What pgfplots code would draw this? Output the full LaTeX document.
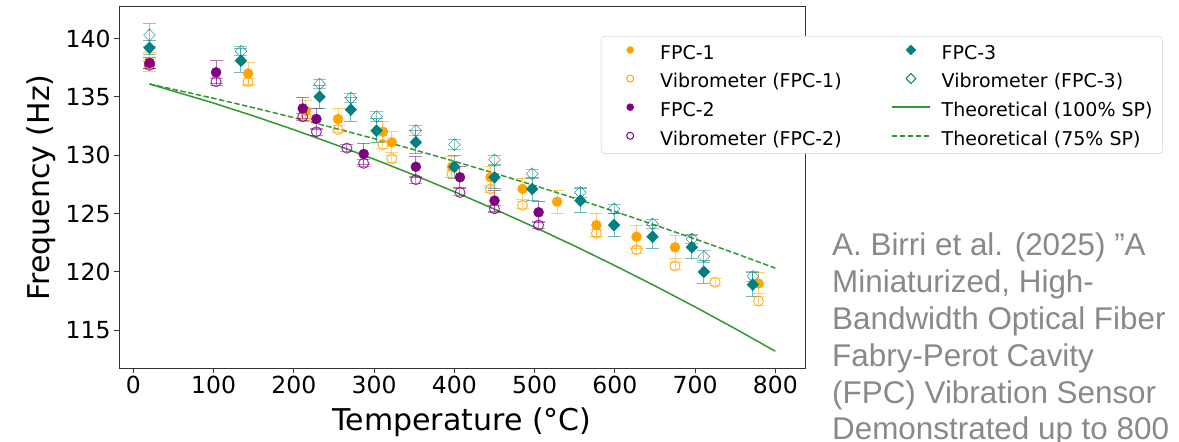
\documentclass[border=0pt]{standalone}
\usepackage{fontspec}
\setmainfont{DejaVu Sans}
\newfontfamily\sidefont{Liberation Sans}
\usepackage{pgfplots}
\pgfplotsset{compat=1.18}
\usepackage{pgfplotstable}

\definecolor{c1}{HTML}{FFA500}
\definecolor{c2}{HTML}{800080}
\definecolor{c3}{HTML}{008080}
\definecolor{cg}{HTML}{2E9A2E}
\definecolor{sidegray}{RGB}{137,137,137}

\pgfplotstableread{
T f e
20 138.0 0.8
143 137.0 0.95
215 133.8 0.9
255 133.1 0.9
311 132.0 0.9
322 131.1 0.9
397 129.0 0.9
445 128.1 0.9
485 127.1 0.9
528 126.0 1.0
577 124.0 1.0
627 123.0 1.0
675 122.1 1.0
779 119.0 0.9
}\fpcone
\pgfplotstableread{
T f e
20 137.8 0.4
143 136.3 0.3
215 133.3 0.3
255 132.2 0.3
311 130.9 0.3
322 129.7 0.3
397 128.4 0.3
445 127.1 0.3
485 125.7 0.3
577 123.3 0.3
627 121.9 0.3
675 120.5 0.3
725 119.1 0.3
779 117.5 0.4
}\vibone
\pgfplotstableread{
T f e
20 137.9 0.5
103 137.1 1.0
211 134.0 0.9
228 133.1 0.9
287 130.1 0.9
352 129.0 0.9
407 128.1 0.9
450 126.1 0.9
505 125.1 0.9
}\fpctwo
\pgfplotstableread{
T f e
20 137.7 0.3
103 136.3 0.3
211 133.3 0.3
228 132.0 0.3
266 130.6 0.3
287 129.3 0.3
352 127.9 0.3
407 126.8 0.3
450 125.4 0.3
505 124.0 0.3
}\vibtwo
\pgfplotstableread{
T f e
20 139.2 0.6
134 138.1 1.0
232 135.0 1.0
271 133.9 1.0
303 132.1 1.0
352 131.1 1.0
400 129.0 1.0
450 128.1 1.0
497 127.1 1.0
557 126.1 1.0
599 124.0 1.0
647 123.0 1.0
696 122.1 1.0
711 120.0 1.0
772 118.9 1.0
}\fpcthree
\pgfplotstableread{
T f e
20 140.3 1.0
134 138.9 0.4
232 136.1 0.4
271 134.9 0.4
303 133.3 0.4
352 132.1 0.4
400 130.9 0.4
450 129.6 0.4
497 128.4 0.4
557 126.8 0.4
599 125.4 0.4
647 124.1 0.4
696 122.8 0.4
711 121.3 0.5
772 119.6 0.4
}\vibthree
\pgfplotstableread{
T f
20 136.10
100 134.46
150 133.35
200 132.18
250 130.94
300 129.65
350 128.29
400 126.86
450 125.37
500 123.82
550 122.21
600 120.53
650 118.79
700 116.99
750 115.12
800 113.19
}\theofull
\pgfplotstableread{
T f
20 136.10
100 134.87
150 134.06
200 133.21
250 132.33
300 131.41
350 130.46
400 129.47
450 128.45
500 127.39
550 126.30
600 125.17
650 124.01
700 122.81
750 121.58
800 120.31
}\theoseventyfive

\pgfplotsset{
  filledpt/.style n args={3}{only marks, mark=#2, mark size=#3, color=#1,
    mark options={draw=#1, fill=#1},
    error bars/y dir=both, error bars/y explicit,
    error bars/error bar style={#1, opacity=0.55, line width=1pt},
    error bars/error mark options={rotate=90, mark size=6.5pt, #1, opacity=0.55, line width=1pt}},
  openpt/.style n args={3}{only marks, mark=#2, mark size=#3, color=#1,
    mark options={draw=#1, draw opacity=0.8, fill=none, line width=1pt},
    error bars/y dir=both, error bars/y explicit,
    error bars/error bar style={#1, opacity=0.45, line width=1pt},
    error bars/error mark options={rotate=90, mark size=6.5pt, #1, opacity=0.45, line width=1pt}},
  legmark/.style={legend image code/.code={
      \path[draw=none, fill=none] (0pt,-8pt) rectangle (38pt,8pt);
      \draw[##1] plot coordinates {(19pt,2pt)};}},
  legline/.style={legend image code/.code={
      \path[draw=none, fill=none] (0pt,-8pt) rectangle (38pt,8pt);
      \draw[##1] (0pt,2pt) -- (38pt,2pt);}},
}

\begin{document}
\begin{tikzpicture}
\useasboundingbox (0pt,0pt) rectangle (1179pt,442pt);
\begin{axis}[
  at={(119pt,74pt)}, anchor=south west,
  scale only axis, width=686pt, height=361pt,
  xmin=-18, xmax=837, ymin=111.75, ymax=142.7,
  xtick={0,100,...,800}, ytick={115,120,...,140},
  tick align=outside, xtick pos=left, ytick pos=left,
  major tick length=5pt,
  every tick/.style={black!80, line width=1pt},
  axis line style={black!80, line width=1pt},
  tick label style={font=\fontsize{23.5}{28}\selectfont},
  /pgf/number format/assume math mode=true,
  /pgf/number format/1000 sep={},
  xlabel={Temperature (°C)}, ylabel={Frequency (Hz)},
  label style={font=\fontsize{30}{36}\selectfont},
  xlabel style={at={(axis description cs:0.5,-0.172)}, anchor=base},
  ylabel style={at={(axis description cs:-0.102,0.5)}, anchor=base},
  legend columns=2,
  legend cell align=left,
  legend style={at={(axis description cs:0.7026,0.9197)}, anchor=north west,
    draw=black!20, fill=white, rounded corners=4pt,
    font=\fontsize{19}{23}\selectfont,
    nodes={inner sep=0pt},
    inner xsep=10pt, inner ysep=7pt,
    row sep=11pt, column sep=11pt},
]
\addplot[cg, line width=1.5pt, forget plot] table[x=T,y=f] \theofull;
\addplot[cg, line width=1.5pt, dash pattern=on 5.5pt off 2.4pt, forget plot] table[x=T,y=f] \theoseventyfive;

\addplot[forget plot, filledpt={c1}{*}{5pt}] table[x=T,y=f,y error=e] \fpcone;
\addplot[forget plot, openpt={c1}{o}{5pt}] table[x=T,y=f,y error=e] \vibone;
\addplot[forget plot, filledpt={c2}{*}{5pt}] table[x=T,y=f,y error=e] \fpctwo;
\addplot[forget plot, openpt={c2}{o}{5pt}] table[x=T,y=f,y error=e] \vibtwo;
\addplot[forget plot, openpt={c3}{diamond}{6pt}, mark options={xscale=1.3}] table[x=T,y=f,y error=e] \vibthree;
\addplot[forget plot, filledpt={c3}{diamond*}{6pt}, mark options={xscale=1.3}] table[x=T,y=f,y error=e] \fpcthree;

\addlegendimage{legmark, only marks, mark=*, mark size=3.5pt, c1}
\addlegendentry{\makebox[220pt][l]{FPC-1\strut}}
\addlegendimage{legmark, only marks, mark=diamond*, mark size=5pt, c3, mark options={xscale=1.3}}
\addlegendentry{FPC-3\strut}
\addlegendimage{legmark, only marks, mark=o, mark size=3.5pt, c1, mark options={line width=1pt}}
\addlegendentry{\makebox[220pt][l]{Vibrometer (FPC-1)\strut}}
\addlegendimage{legmark, only marks, mark=diamond, mark size=5pt, c3, mark options={line width=1pt, xscale=1.3}}
\addlegendentry{Vibrometer (FPC-3)\strut}
\addlegendimage{legmark, only marks, mark=*, mark size=3.5pt, c2}
\addlegendentry{\makebox[220pt][l]{FPC-2\strut}}
\addlegendimage{legline, cg, line width=1.5pt}
\addlegendentry{Theoretical (100\% SP)\strut}
\addlegendimage{legmark, only marks, mark=o, mark size=3.5pt, c2, mark options={line width=1pt}}
\addlegendentry{\makebox[220pt][l]{Vibrometer (FPC-2)\strut}}
\addlegendimage{legline, cg, line width=1.5pt, dash pattern=on 5.5pt off 2.4pt}
\addlegendentry{Theoretical (75\% SP)\strut}
\end{axis}
\begin{scope}[every node/.style={anchor=base west, inner sep=0pt, text=sidegray,
    font=\sidefont\fontsize{31.4}{35}\selectfont}]
\node at (832pt,186pt) {A. Birri et al. (2025) ”A};
\node at (832pt,149.2pt) {Miniaturized, High-};
\node at (832pt,112.4pt) {Bandwidth Optical Fiber};
\node at (832pt,75.6pt) {Fabry-Perot Cavity};
\node at (832pt,38.8pt) {(FPC) Vibration Sensor};
\node at (832pt,2pt) {Demonstrated up to 800};
\end{scope}
\end{tikzpicture}
\end{document}
